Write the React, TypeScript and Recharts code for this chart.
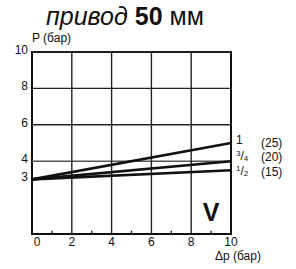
import React from 'react';
import {
  LineChart,
  Line,
  XAxis,
  YAxis,
  ReferenceLine,
  ReferenceArea,
  LabelList
} from 'recharts';

// flow through valve, x = Δp (bar), y = P (bar)
const dp = [0, 10];
const pSize1 = [3, 5];
const pSize34 = [3, 4];
const pSize12 = [3, 3.5];

const sizeNames = ['1', '3/4', '1/2'];
const dnNames = ['(25)', '(20)', '(15)'];
const labelShift = [0, -4, 2];

const xTicks = [0, 2, 4, 6, 8, 10];
const yTicks = [3, 4, 6, 8, 10];
const gridX = [2, 4, 6, 8];
const gridY = [4, 6, 8, 10];
const minorX = [1, 3, 5, 7, 9];

const chartData = dp.map((x, i) => ({
  x,
  s1: pSize1[i],
  s34: pSize34[i],
  s12: pSize12[i]
}));

const FONT = '"Liberation Sans", Arial, sans-serif';

const XTick = (props: any) => {
  const { x, y, payload } = props;
  return (
    <text
      x={x + (payload.value === 0 ? 5 : 0)}
      y={y + 4}
      textAnchor="middle"
      fontSize={12}
      fontFamily={FONT}
      fill="#111"
    >
      {payload.value}
    </text>
  );
};

const YTick = (props: any) => {
  const { x, y, payload } = props;
  return (
    <text
      x={x + 4}
      y={y + 2}
      textAnchor="end"
      fontSize={12}
      fontFamily={FONT}
      fill="#111"
    >
      {payload.value}
    </text>
  );
};

function sizeLabel(idx: number) {
  return (props: any) => {
    if (props.index !== dp.length - 1) return null;
    const { x } = props;
    const y = props.y + labelShift[idx];
    const name = sizeNames[idx];
    const parts = name.split('/');
    return (
      <g fontFamily={FONT} fill="#111">
        {parts.length === 1 ? (
          <text x={x + 5} y={y + 1} fontSize={12}>
            {name}
          </text>
        ) : (
          <text x={x + 5} y={y + 3} fontSize={12}>
            <tspan fontSize={8} dy={-4}>
              {parts[0]}
            </tspan>
            <tspan dy={4}>/</tspan>
            <tspan fontSize={8} dy={1}>
              {parts[1]}
            </tspan>
          </text>
        )}
        <text x={x + 30} y={y + 4} fontSize={12}>
          {dnNames[idx]}
        </text>
      </g>
    );
  };
}

export default function App() {
  return (
    <div style={{ position: 'absolute', left: 0, top: 0, width: 296, height: 269, background: '#fff' }}>
      <div
        style={{
          position: 'absolute',
          left: 0,
          width: 250,
          top: 0,
          textAlign: 'center',
          fontFamily: FONT,
          fontSize: 25,
          lineHeight: '30px',
          color: '#111',
          paddingTop: 1
        }}
      >
        <i>привод</i> <b>50</b> мм
      </div>
      <LineChart
        width={296}
        height={269}
        data={chartData}
        margin={{ top: 52, right: 65, bottom: 0, left: 0 }}
      >
        <XAxis
          type="number"
          dataKey="x"
          domain={[0, 10]}
          ticks={xTicks}
          interval={0}
          height={35}
          tickLine={false}
          axisLine={false}
          tick={XTick}
        />
        <YAxis
          type="number"
          domain={[0, 10]}
          ticks={yTicks}
          interval={0}
          width={32}
          tickLine={false}
          axisLine={false}
          tick={YTick}
        />
        {gridY.map((v) => (
          <ReferenceLine key={'gy' + v} y={v} stroke={v === 4 ? '#555' : '#222'} strokeWidth={1.4} />
        ))}
        {gridX.map((v) => (
          <ReferenceLine key={'gx' + v} x={v} stroke="#222" strokeWidth={1.4} />
        ))}
        {minorX.map((v) => (
          <ReferenceLine
            key={'mx' + v}
            segment={[
              { x: v, y: 0 },
              { x: v, y: 0.18 }
            ]}
            stroke="#222"
            strokeWidth={1.4}
          />
        ))}
        <ReferenceArea
          x1={0}
          x2={10}
          y1={0}
          y2={10}
          fill="none"
          fillOpacity={0}
          stroke="#111"
          strokeWidth={2}
          ifOverflow="visible"
        />
        <Line dataKey="s1" stroke="#111" strokeWidth={2.6} dot={false} isAnimationActive={false}>
          <LabelList content={sizeLabel(0)} />
        </Line>
        <Line dataKey="s34" stroke="#111" strokeWidth={2.6} dot={false} isAnimationActive={false}>
          <LabelList content={sizeLabel(1)} />
        </Line>
        <Line dataKey="s12" stroke="#111" strokeWidth={2.6} dot={false} isAnimationActive={false}>
          <LabelList content={sizeLabel(2)} />
        </Line>
      </LineChart>
      <div
        style={{
          position: 'absolute',
          left: 32,
          top: 31,
          fontFamily: FONT,
          fontSize: 12,
          color: '#111'
        }}
      >
        P (бар)
      </div>
      <div
        style={{
          position: 'absolute',
          left: 215,
          top: 250,
          fontFamily: FONT,
          fontSize: 12,
          lineHeight: '12px',
          color: '#111'
        }}
      >
        Δp (бар)
      </div>
      <div
        style={{
          position: 'absolute',
          left: 200,
          top: 198,
          width: 22,
          textAlign: 'center',
          fontFamily: FONT,
          fontWeight: 'bold',
          fontSize: 25,
          color: '#111'
        }}
      >
        V
      </div>
    </div>
  );
}
